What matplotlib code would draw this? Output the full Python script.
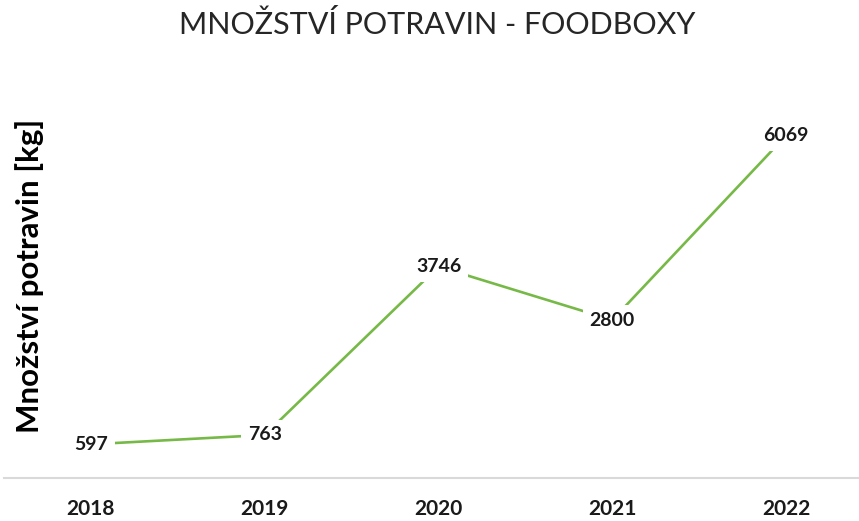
import matplotlib
matplotlib.use("Agg")
import matplotlib.pyplot as plt

years = ["2018", "2019", "2020", "2021", "2022"]
amounts = [597, 763, 3746, 2800, 6069]

W, H = 859, 521
fig = plt.figure(figsize=(W / 100, H / 100), dpi=100)
plt.rcParams['font.family'] = ['Lato', 'DejaVu Sans']

left_px, right_px = 4, 873
top_px, bottom_px = 83, 478
ax = fig.add_axes([left_px / W, 1 - bottom_px / H, (right_px - left_px) / W, (bottom_px - top_px) / H])
ax.set_xlim(-0.5, len(years) - 0.5)
ax.set_ylim(0, 7000)

x = list(range(len(years)))
ax.plot(x, amounts, color='#76B947', linewidth=1.9, zorder=2, solid_capstyle='butt')
for xi, v in zip(x, amounts):
    ax.text(xi, v, str(v), ha='center', va='center', fontsize=14, fontweight='bold',
            color='#1a1a1a', zorder=3,
            bbox=dict(boxstyle='square,pad=0.35', facecolor='white', edgecolor='none'))

ax.set_xticks(x)
ax.set_xticklabels(years, fontsize=15, fontweight='bold', color='#1a1a1a')
ax.tick_params(axis='x', length=0, pad=15)
ax.set_yticks([])
for s in ['top', 'left', 'right']:
    ax.spines[s].set_visible(False)
ax.spines['bottom'].set_color('#D9D9D9')
ax.spines['bottom'].set_linewidth(1.5)

fig.text(437 / W, 1 - 25 / H, "MNOŽSTVÍ POTRAVIN - FOODBOXY", ha='center', va='center',
         fontsize=22, color='#262626')
fig.text(30 / W, 1 - 276 / H, "Množství potravin [kg]", ha='center', va='center',
         rotation=90, fontsize=22.5, fontweight='bold', color='black')

fig.savefig("out.png", dpi=100)
